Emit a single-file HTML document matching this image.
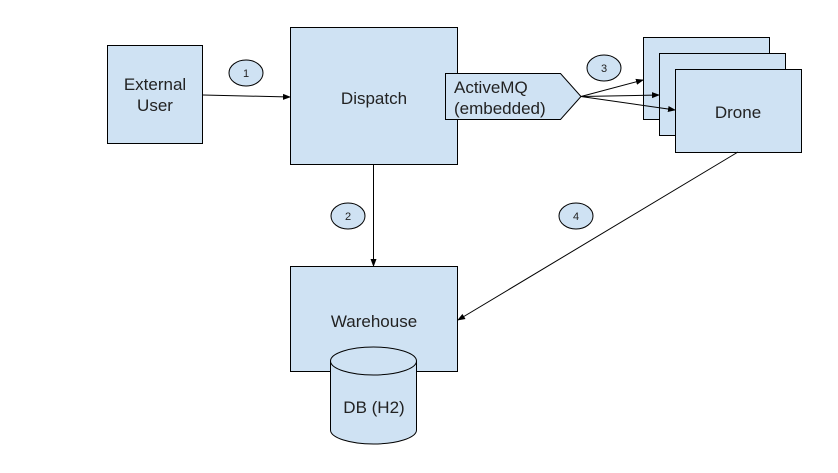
<!DOCTYPE html>
<html><head><style>
body{margin:0;background:#fff;}
svg text{font-family:"Liberation Sans",Arial,sans-serif;fill:#222;}
</style></head><body>
<svg width="838" height="468" viewBox="0 0 838 468" xmlns="http://www.w3.org/2000/svg">
<defs><marker id="a" markerWidth="8" markerHeight="8" refX="7" refY="4" orient="auto" markerUnits="userSpaceOnUse"><path d="M0,1 L8,4 L0,7 z" fill="#000"/></marker></defs>
<g stroke="#000" stroke-width="1" fill="#cfe2f3">
<rect x="107.5" y="45.5" width="95" height="98"/>
<rect x="290.5" y="27.5" width="167" height="137"/>
<polygon points="445.5,73.5 560.5,73.5 581,96.5 560.5,119.5 445.5,119.5"/>
<rect x="643.5" y="37.5" width="126" height="82"/>
<rect x="659.5" y="53.5" width="126" height="82"/>
<rect x="675.5" y="69.5" width="126" height="83"/>
<rect x="290.5" y="266.5" width="167" height="105"/>
<path d="M330.5,361 L330.5,430 A43,14 0 0 0 416.5,430 L416.5,361"/>
<ellipse cx="373.5" cy="361" rx="43" ry="14"/>
<ellipse cx="246" cy="73" rx="17" ry="13"/>
<ellipse cx="348" cy="216" rx="17" ry="13"/>
<ellipse cx="604" cy="68" rx="17" ry="13"/>
<ellipse cx="576" cy="216" rx="17" ry="13"/>
</g>
<g stroke="#000" stroke-width="1" fill="none" marker-end="url(#a)">
<line x1="203" y1="95" x2="290" y2="97"/>
<line x1="373.5" y1="165" x2="373.5" y2="266"/>
<line x1="581" y1="96.5" x2="643" y2="80"/>
<line x1="581" y1="96.5" x2="659" y2="95"/>
<line x1="581" y1="96.5" x2="675" y2="110"/>
<line x1="738" y1="152" x2="458" y2="320"/>
</g>
<g font-size="17" text-anchor="middle">
<text x="155" y="90">External</text>
<text x="155" y="111">User</text>
<text x="374" y="104">Dispatch</text>
<text x="738" y="118">Drone</text>
<text x="374" y="327">Warehouse</text>
<text x="374" y="413">DB (H2)</text>
</g>
<g font-size="17">
<text x="454" y="93">ActiveMQ</text>
<text x="454" y="114">(embedded)</text>
</g>
<g font-size="11" text-anchor="middle">
<text x="246" y="77">1</text>
<text x="348" y="220">2</text>
<text x="604" y="72">3</text>
<text x="576" y="220">4</text>
</g>
</svg>
</body></html>
